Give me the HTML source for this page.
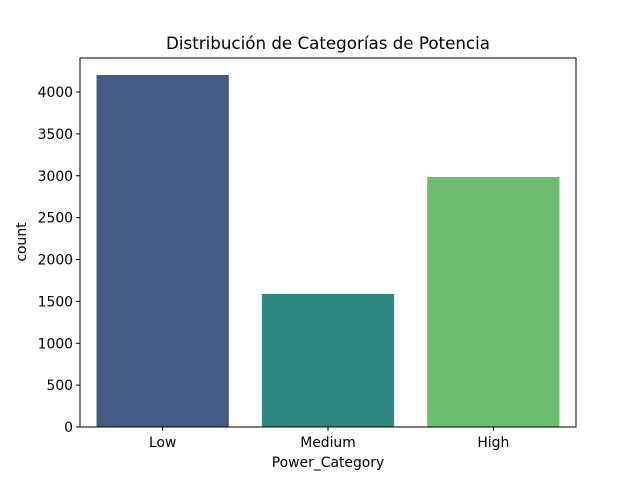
<!DOCTYPE html>
<html><head><meta charset="utf-8"><style>body{margin:0;background:#fff}svg text{font-family:"DejaVu Sans","Liberation Sans",sans-serif;fill:#000}</style></head>
<body>
<svg width="640" height="480" xmlns="http://www.w3.org/2000/svg">
<text x="328" y="49" font-size="16.7" text-anchor="middle">Distribución de Categorías de Potencia</text>
<g id="bars"></g>
<rect x="80" y="58" width="496" height="369" fill="none" stroke="#000" stroke-width="1"/>
<g id="yt"></g><g id="xt"></g>
<text x="328" y="467" font-size="13.9" text-anchor="middle">Power_Category</text>
<text transform="translate(26,242) rotate(-90)" font-size="13.9" text-anchor="middle">count</text>
</svg>
<script>
const categories=["Low","Medium","High"];
const counts=[4203,1588,2985];
const colors=["#455a84","#2e8680","#6bbe6e"];
const yTicks=[0,500,1000,1500,2000,2500,3000,3500,4000];
const NS="http://www.w3.org/2000/svg";
const x0=80,w=496,yb=427,k=335/4000;
const ys=v=>yb-v*k;
const band=w/categories.length;
const bars=document.getElementById('bars'),yt=document.getElementById('yt'),xt=document.getElementById('xt');
categories.forEach((c,i)=>{
 const cx=x0+band*(i+0.5),bw=band*0.8;
 const r=document.createElementNS(NS,'rect');
 r.setAttribute('x',cx-bw/2);r.setAttribute('y',ys(counts[i]));r.setAttribute('width',bw);r.setAttribute('height',yb-ys(counts[i]));r.setAttribute('fill',colors[i]);
 
 
 bars.appendChild(r);
 const l=document.createElementNS(NS,'line');
 l.setAttribute('x1',cx);l.setAttribute('x2',cx);l.setAttribute('y1',yb);l.setAttribute('y2',yb+4);l.setAttribute('stroke','#000');
 
 
 xt.appendChild(l);
 const t=document.createElementNS(NS,'text');
 t.setAttribute('x',cx);t.setAttribute('y',yb+20);t.setAttribute('font-size','13.9');t.setAttribute('text-anchor','middle');t.textContent=c;
 
 
 xt.appendChild(t);
});
yTicks.forEach(v=>{
 const y=ys(v);
 const l=document.createElementNS(NS,'line');
 l.setAttribute('x1',x0-4);l.setAttribute('x2',x0);l.setAttribute('y1',y);l.setAttribute('y2',y);l.setAttribute('stroke','#000');
 
 
 yt.appendChild(l);
 const t=document.createElementNS(NS,'text');
 t.setAttribute('x',x0-7);t.setAttribute('y',y+5);t.setAttribute('font-size','13.9');t.setAttribute('text-anchor','end');t.textContent=v;
 
 
 yt.appendChild(t);
});
</script>
</body></html>
